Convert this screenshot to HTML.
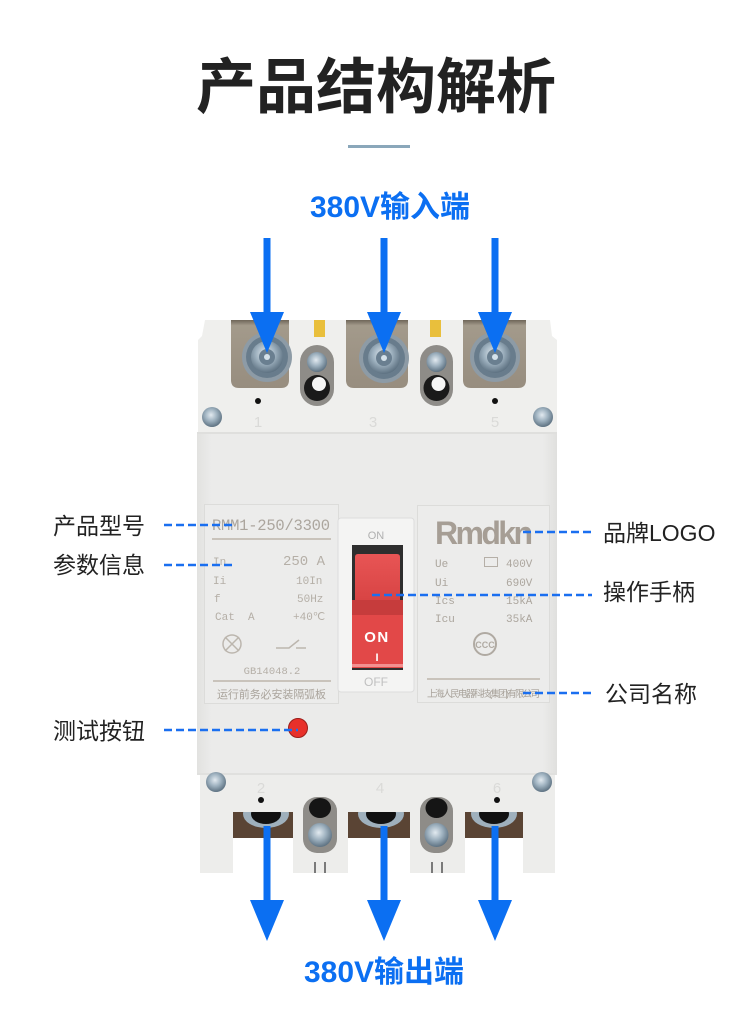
<!DOCTYPE html>
<html><head><meta charset="utf-8"><style>
html,body{margin:0;padding:0;background:#fff;}
svg{display:block}
</style></head><body>
<svg width="750" height="1019" viewBox="0 0 750 1019" xmlns="http://www.w3.org/2000/svg" font-family="'Liberation Sans','Noto Sans CJK SC',sans-serif">
<defs>
<linearGradient id="metal" x1="0" y1="0" x2="0" y2="1"><stop offset="0" stop-color="#6e6558"/><stop offset="0.08" stop-color="#a39a8b"/><stop offset="1" stop-color="#978d7f"/></linearGradient>
<radialGradient id="scr" cx="0.45" cy="0.4" r="0.6"><stop offset="0" stop-color="#e2eaf0"/><stop offset="0.5" stop-color="#9fb2c0"/><stop offset="1" stop-color="#5e7282"/></radialGradient>
<linearGradient id="face" x1="0" y1="0" x2="1" y2="0"><stop offset="0" stop-color="#e2e2e0"/><stop offset="0.04" stop-color="#ebebea"/><stop offset="0.96" stop-color="#ebebea"/><stop offset="1" stop-color="#e0e0de"/></linearGradient>
<linearGradient id="red" x1="0" y1="0" x2="0" y2="1"><stop offset="0" stop-color="#e85555"/><stop offset="1" stop-color="#d84444"/></linearGradient>
<clipPath id="o1"><rect x="233" y="812" width="60" height="26"/></clipPath>
<clipPath id="o2"><rect x="348" y="812" width="62" height="26"/></clipPath>
<clipPath id="o3"><rect x="465" y="812" width="58" height="26"/></clipPath>
</defs>
<rect width="750" height="1019" fill="#fff"/>

<!-- Title -->
<text x="376" y="108" font-size="60" font-weight="700" fill="#222" text-anchor="middle">产品结构解析</text>
<rect x="348" y="145" width="62" height="3" fill="#8aa7ba"/>
<text x="390" y="217" font-size="30" font-weight="700" fill="#0b6ff2" text-anchor="middle">380V输入端</text>

<!-- Top terminal block -->
<path d="M205 320 H550 L552 336 L557 340 V434 H198 V340 L202 336 Z" fill="#efefed"/>
<path d="M231 320 H289 V380 Q289 388 281 388 H239 Q231 388 231 380 Z" fill="url(#metal)"/>
<path d="M346 320 H408 V380 Q408 388 400 388 H354 Q346 388 346 380 Z" fill="url(#metal)"/>
<path d="M463 320 H526 V380 Q526 388 518 388 H471 Q463 388 463 380 Z" fill="url(#metal)"/>
<!-- top screws -->
<g>
<circle cx="267" cy="357" r="25" fill="#8d9ba6"/><circle cx="267" cy="357" r="21" fill="#687c8c"/><circle cx="267" cy="357" r="16" fill="url(#scr)"/><circle cx="267" cy="357" r="8" fill="#6a7f90"/><circle cx="267" cy="357" r="3" fill="#d5e2ea"/>
<circle cx="384" cy="358" r="25" fill="#8d9ba6"/><circle cx="384" cy="358" r="21" fill="#687c8c"/><circle cx="384" cy="358" r="16" fill="url(#scr)"/><circle cx="384" cy="358" r="8" fill="#6a7f90"/><circle cx="384" cy="358" r="3" fill="#d5e2ea"/>
<circle cx="495" cy="357" r="25" fill="#8d9ba6"/><circle cx="495" cy="357" r="21" fill="#687c8c"/><circle cx="495" cy="357" r="16" fill="url(#scr)"/><circle cx="495" cy="357" r="8" fill="#6a7f90"/><circle cx="495" cy="357" r="3" fill="#d5e2ea"/>
</g>
<!-- slots -->
<rect x="314" y="320" width="11" height="17" fill="#e9bf3c"/>
<rect x="430" y="320" width="11" height="17" fill="#e9bf3c"/>
<rect x="300" y="345" width="34" height="61" rx="17" fill="#8e8c88"/>
<circle cx="317" cy="362" r="10" fill="url(#scr)"/>
<circle cx="317" cy="388" r="13" fill="#1a1a1a"/><circle cx="319" cy="384" r="7" fill="#f5f5f5"/>
<rect x="420" y="345" width="33" height="61" rx="16.5" fill="#8e8c88"/>
<circle cx="436.5" cy="362" r="10" fill="url(#scr)"/>
<circle cx="436.5" cy="388" r="13" fill="#1a1a1a"/><circle cx="438.5" cy="384" r="7" fill="#f5f5f5"/>
<circle cx="258" cy="401" r="3" fill="#111"/>
<circle cx="495" cy="401" r="3" fill="#111"/>
<circle cx="212" cy="417" r="10" fill="url(#scr)"/>
<circle cx="543" cy="417" r="10" fill="url(#scr)"/>
<g font-size="15" fill="#dadad8" text-anchor="middle"><text x="258" y="427">1</text><text x="373" y="427">3</text><text x="495" y="427">5</text></g>

<!-- Face -->
<rect x="197" y="433" width="360" height="342" fill="url(#face)"/>
<rect x="197" y="432" width="360" height="2" fill="#dfdfdd"/>

<!-- Left plate -->
<rect x="204.5" y="504.5" width="134" height="199" fill="#ececeb" stroke="#dcdcda"/>
<text x="212" y="530" font-family="'Liberation Mono',monospace" font-size="15.5" fill="#aba59d" textLength="118">RMM1-250/3300</text>
<rect x="212" y="538" width="119" height="2" fill="#c9c3bb"/>
<g font-family="'Liberation Mono',monospace" font-size="11" fill="#b5afa7">
<text x="213" y="565">In</text><text x="283" y="565" font-size="14">250 A</text>
<text x="213" y="584">Ii</text><text x="296" y="584">10In</text>
<text x="214" y="602">f</text><text x="297" y="602">50Hz</text>
<text x="215" y="620">Cat</text><text x="248" y="620">A</text><text x="293" y="620">+40℃</text>
<text x="272" y="674" text-anchor="middle" font-size="10.5">GB14048.2</text>
</g>
<circle cx="232" cy="644" r="9" fill="none" stroke="#bcb6ae" stroke-width="1.5"/>
<path d="M225 637 L239 651 M239 637 L225 651" stroke="#bcb6ae" stroke-width="1.5"/>
<path d="M276 648 H289 L299 640 M296 648 H306" stroke="#bcb6ae" stroke-width="1.5" fill="none"/>
<rect x="213" y="680" width="118" height="2" fill="#c9c3bb"/>
<text x="217" y="698" font-size="11" fill="#aaa49c" textLength="109">运行前务必安装隔弧板</text>

<!-- Right plate -->
<rect x="417.5" y="505.5" width="132" height="197" fill="#ececeb" stroke="#dcdcda"/>
<text x="435" y="544" font-size="32" font-weight="700" fill="#a69e95" textLength="98">Rmdkn</text>
<g font-family="'Liberation Mono',monospace" font-size="11" fill="#aca69e">
<text x="435" y="567">Ue</text><text x="506" y="567">400V</text>
<text x="435" y="586">Ui</text><text x="506" y="586">690V</text>
<text x="435" y="604">Ics</text><text x="506" y="604">15kA</text>
<text x="435" y="622">Icu</text><text x="506" y="622">35kA</text>
</g>
<rect x="484.5" y="557.5" width="13" height="9" fill="none" stroke="#b5afa7"/>
<circle cx="485" cy="644" r="11" fill="none" stroke="#b0aaa2" stroke-width="2"/>
<text x="485" y="648" font-size="9" font-weight="700" fill="#b0aaa2" text-anchor="middle">CCC</text>
<rect x="427" y="678" width="113" height="2" fill="#c9c3bb"/>
<text x="427" y="697" font-size="9.5" fill="#a8a29a" textLength="113">上海人民电器科技(集团)有限公司</text>

<!-- Switch -->
<rect x="338" y="518" width="76" height="174" rx="3" fill="#f4f4f3" stroke="#dcdcdc"/>
<text x="376" y="539" font-size="11" fill="#b0b0b0" text-anchor="middle">ON</text>
<rect x="352" y="545" width="51" height="125" fill="#2e2e2e"/>
<path d="M355 600 V557 Q355 554 358 554 H397 Q400 554 400 557 V600 Z" fill="url(#red)"/>
<rect x="352" y="600" width="51" height="15" fill="#c63c3c"/>
<rect x="352" y="615" width="51" height="53" fill="#e24848"/>
<rect x="352" y="664" width="51" height="3" fill="#f39090"/>
<text x="377" y="642" font-size="15" font-weight="700" fill="#fff" text-anchor="middle" letter-spacing="1.5">ON</text>
<text x="377" y="661" font-size="11" font-weight="700" fill="#fff" text-anchor="middle">I</text>
<text x="376" y="686" font-size="12" fill="#c0c0c0" text-anchor="middle">OFF</text>

<!-- Test button -->
<circle cx="298" cy="728" r="9.5" fill="#e8302a" stroke="#9a1e1a"/>

<!-- Bottom block -->
<path d="M200 775 H555 V873 H523 V812 H465 V873 H410 V812 H348 V873 H293 V812 H233 V873 H200 Z" fill="#ededeb"/>
<rect x="197" y="773" width="360" height="2" fill="#e0e0de"/>
<g clip-path="url(#o1)"><rect x="233" y="812" width="60" height="26" fill="#5a4434"/><ellipse cx="266" cy="814" rx="23" ry="14" fill="#9fb0bc"/><ellipse cx="266" cy="814" rx="15" ry="10" fill="#111"/></g>
<g clip-path="url(#o2)"><rect x="348" y="812" width="62" height="26" fill="#5a4434"/><ellipse cx="381" cy="814" rx="23" ry="14" fill="#9fb0bc"/><ellipse cx="381" cy="814" rx="15" ry="10" fill="#111"/></g>
<g clip-path="url(#o3)"><rect x="465" y="812" width="58" height="26" fill="#5a4434"/><ellipse cx="494" cy="814" rx="23" ry="14" fill="#9fb0bc"/><ellipse cx="494" cy="814" rx="15" ry="10" fill="#111"/></g>
<rect x="303" y="797" width="34" height="56" rx="14" fill="#8e8c88"/>
<ellipse cx="320" cy="808" rx="11" ry="10" fill="#151515"/>
<circle cx="320" cy="835" r="12" fill="url(#scr)"/>
<rect x="420" y="797" width="33" height="56" rx="14" fill="#8e8c88"/>
<ellipse cx="436.5" cy="808" rx="11" ry="10" fill="#151515"/>
<circle cx="436.5" cy="835" r="12" fill="url(#scr)"/>
<path d="M315 862 V873 M325 862 V873 M432 862 V873 M442 862 V873" stroke="#555" stroke-width="1.5"/>
<circle cx="216" cy="782" r="10" fill="url(#scr)"/>
<circle cx="542" cy="782" r="10" fill="url(#scr)"/>
<circle cx="261" cy="800" r="3" fill="#111"/>
<circle cx="497" cy="800" r="3" fill="#111"/>
<g font-size="15" fill="#dadad8" text-anchor="middle"><text x="261" y="793">2</text><text x="380" y="793">4</text><text x="497" y="793">6</text></g>

<!-- Arrows -->
<g fill="#0b6ff2">
<rect x="263.5" y="238" width="7" height="76"/><polygon points="250,312 284,312 267,353"/>
<rect x="380.5" y="238" width="7" height="76"/><polygon points="367,312 401,312 384,353"/>
<rect x="491.5" y="238" width="7" height="76"/><polygon points="478,312 512,312 495,353"/>
<rect x="263.5" y="826" width="7" height="76"/><polygon points="250,900 284,900 267,941"/>
<rect x="380.5" y="826" width="7" height="76"/><polygon points="367,900 401,900 384,941"/>
<rect x="491.5" y="826" width="7" height="76"/><polygon points="478,900 512,900 495,941"/>
</g>
<text x="384" y="982" font-size="30" font-weight="700" fill="#0b6ff2" text-anchor="middle">380V输出端</text>

<!-- Dashed leaders -->
<g stroke="#1a6ff0" stroke-width="2.5" stroke-dasharray="8 4" fill="none">
<path d="M164 525 H232"/>
<path d="M164 565 H232"/>
<path d="M164 730 H298"/>
<path d="M523 532 H592"/>
<path d="M372 595 H592"/>
<path d="M523 693 H592"/>
</g>

<!-- Labels -->
<g font-size="23" fill="#222">
<text x="53" y="534">产品型号</text>
<text x="53" y="573">参数信息</text>
<text x="53" y="739">测试按钮</text>
<text x="603" y="541">品牌LOGO</text>
<text x="603" y="600">操作手柄</text>
<text x="605" y="702">公司名称</text>
</g>
</svg>
</body></html>
